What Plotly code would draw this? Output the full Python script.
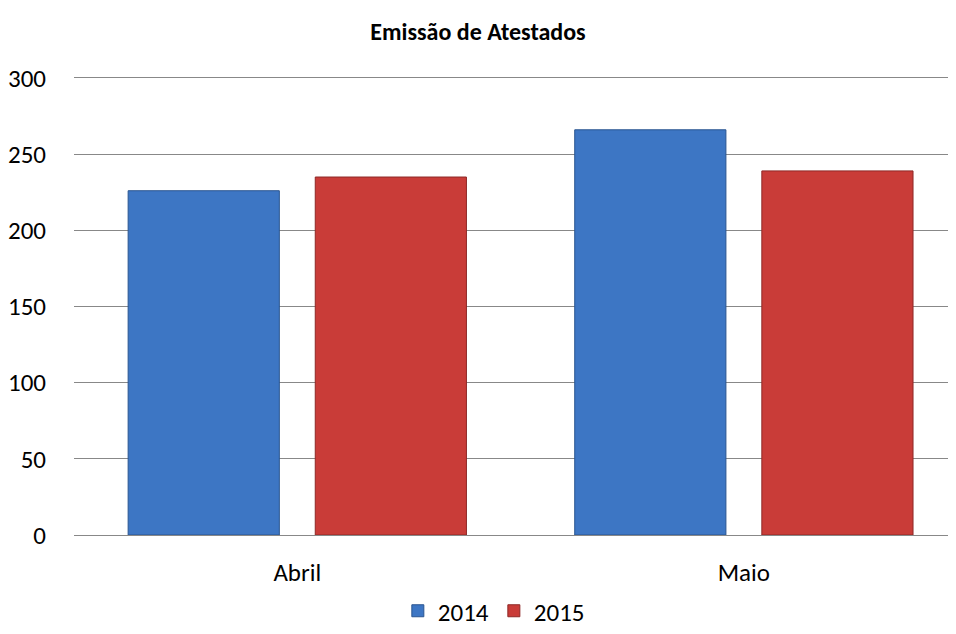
import plotly.graph_objects as go

categories = ["Abril", "Maio"]
series_names = ["2014", "2015"]
values_2014 = [226, 266]
values_2015 = [235, 239]
y_ticks = [0, 50, 100, 150, 200, 250, 300]

colors = {"2014": "#3d76c4", "2015": "#c93c38"}
lines = {"2014": "#2a5590", "2015": "#8e2826"}

fig = go.Figure()
for name, vals in zip(series_names, [values_2014, values_2015]):
    fig.add_trace(go.Bar(
        x=categories, y=vals, name=name,
        marker=dict(color=colors[name], line=dict(color=lines[name], width=1)),
    ))

font_family = "Carlito, Calibri, 'Open Sans', sans-serif"
fig.update_layout(
    width=948, height=626,
    margin=dict(l=66, r=0, t=70, b=97),
    paper_bgcolor="white", plot_bgcolor="white",
    barmode="group", bargap=0.162, bargroupgap=0.192,
    title=dict(text="<b>Emissão de Atestados</b>", x=0.4958, xanchor="center",
               y=0.9617, yanchor="middle", font=dict(family=font_family, size=24, color="black")),
    font=dict(family=font_family, size=25, color="black"),
    xaxis=dict(range=[-0.5, 1.475], showgrid=False, showline=True, mirror=True,
               linecolor="#888888", linewidth=1, ticks="", ticklabelstandoff=15,
               tickfont=dict(size=25)),
    yaxis=dict(range=[0, 300], tickvals=y_ticks, showgrid=True, gridcolor="#888888",
               gridwidth=1, zeroline=False, showline=False, ticks="",
               ticklabelstandoff=27, tickfont=dict(size=25)),
    legend=dict(orientation="h", x=0.476, xanchor="center", yref="container",
                y=0.0, yanchor="bottom",
                font=dict(size=25), itemwidth=30, traceorder="normal"),
)

fig.write_html("out.html")
